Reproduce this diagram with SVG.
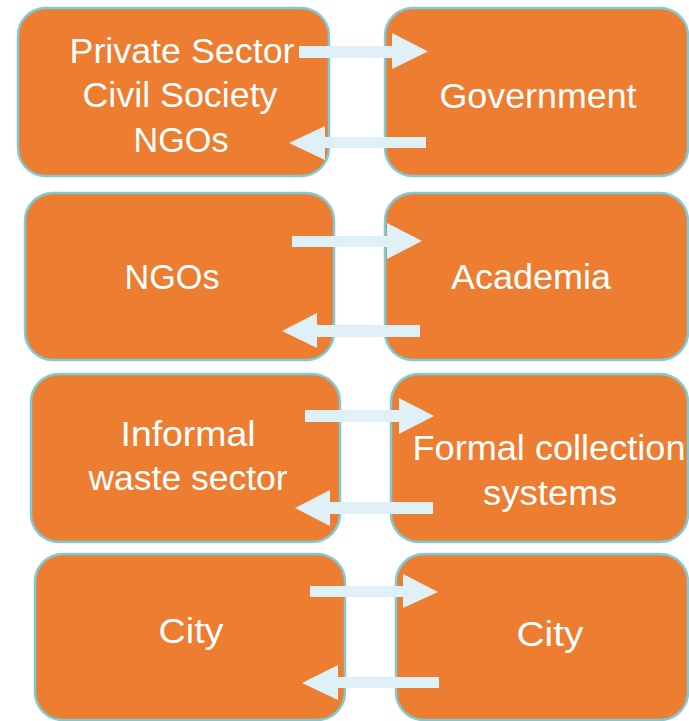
<svg xmlns="http://www.w3.org/2000/svg" width="689" height="721" viewBox="0 0 689 721">
<style>
.box{fill:#ED7D31;stroke:#7FCBD5;stroke-width:2.5}
.t{fill:#FFFFFF;font-family:"Liberation Sans",Arial,sans-serif;font-size:35px;text-anchor:middle}
.arr{fill:#DFF1F6}
</style>
<rect width="689" height="721" fill="#FFFFFF"/>
<g id="n1"><rect class="box" x="18" y="8" width="311" height="168" rx="28"/>
<text class="t" x="182" y="63" textLength="225" lengthAdjust="spacingAndGlyphs">Private Sector</text><text class="t" x="180" y="107" textLength="195" lengthAdjust="spacingAndGlyphs">Civil Society</text><text class="t" x="181" y="152" textLength="95" lengthAdjust="spacingAndGlyphs">NGOs</text></g>
<g id="n2"><rect class="box" x="385" y="8" width="303" height="168" rx="28"/><text class="t" x="538" y="108" textLength="197" lengthAdjust="spacingAndGlyphs">Government</text></g>
<g id="n3"><rect class="box" x="25" y="193" width="309" height="167" rx="28"/><text class="t" x="172" y="289" textLength="95" lengthAdjust="spacingAndGlyphs">NGOs</text></g>
<g id="n4"><rect class="box" x="385" y="193" width="303" height="167" rx="28"/><text class="t" x="531" y="289" textLength="160" lengthAdjust="spacingAndGlyphs">Academia</text></g>
<g id="n5"><rect class="box" x="31" y="374" width="309" height="168" rx="28"/><text class="t" x="188" y="446" textLength="135" lengthAdjust="spacingAndGlyphs">Informal</text><text class="t" x="188" y="490" textLength="199" lengthAdjust="spacingAndGlyphs">waste sector</text></g>
<g id="n6"><rect class="box" x="391" y="374" width="297" height="168" rx="28"/><text class="t" x="549" y="460" textLength="273" lengthAdjust="spacingAndGlyphs">Formal collection</text><text class="t" x="550" y="505" textLength="134" lengthAdjust="spacingAndGlyphs">systems</text></g>
<g id="n7"><rect class="box" x="35" y="554" width="310" height="166" rx="28"/><text class="t" x="191" y="643" textLength="65" lengthAdjust="spacingAndGlyphs">City</text></g>
<g id="n8"><rect class="box" x="396" y="554" width="292" height="166" rx="28"/><text class="t" x="550" y="646" textLength="67" lengthAdjust="spacingAndGlyphs">City</text></g>
<g id="connectors">
<polygon class="arr" points="299,46 392,46 392,33 428,51.5 392,69 392,58 299,58"/>
<polygon class="arr" points="426,137 325,137 325,126 289,143 325,160 325,148 426,148"/>
<polygon class="arr" points="292,236 387,236 387,223 422,241 387,259 387,247 292,247"/>
<polygon class="arr" points="420,325 317,325 317,313 282,331 317,348 317,337 420,337"/>
<polygon class="arr" points="305,410 399,410 399,398 434,416 399,434 399,422 305,422"/>
<polygon class="arr" points="433,502 330,502 330,490 295,508 330,526 330,514 433,514"/>
<polygon class="arr" points="310,586 403,586 403,574 438,592 403,608 403,597 310,597"/>
<polygon class="arr" points="439,677 338,677 338,665 302,683 338,700 338,688 439,688"/>
</g>
</svg>
